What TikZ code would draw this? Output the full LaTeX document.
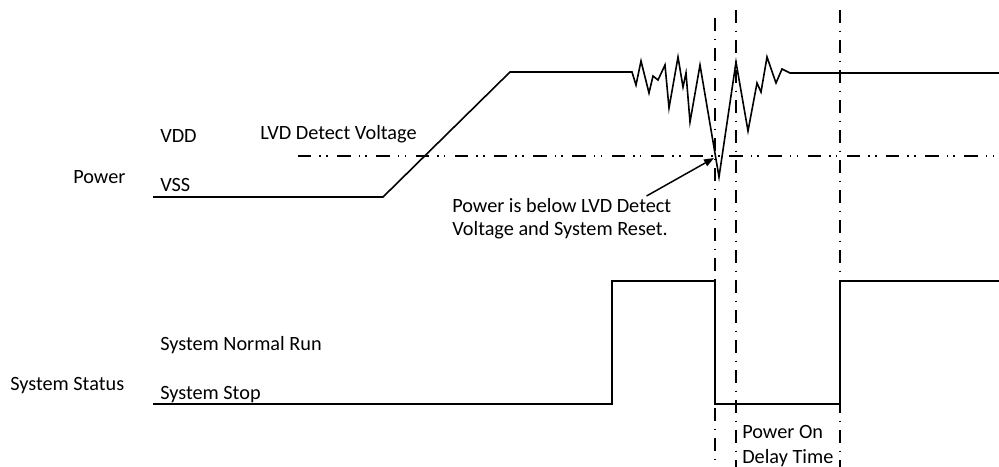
\documentclass[tikz,border=0pt]{standalone}
\usepackage{fontspec}
\setmainfont{Carlito}
\usetikzlibrary{arrows.meta}

\begin{document}
\begin{tikzpicture}[x=0.75pt, y=-0.75pt, >={Triangle[length=7.5pt,width=5.5pt]},
  wave/.style={line width=1.2pt, line join=miter},
  guide/.style={line width=1.1pt, dash pattern=on 10pt off 5.5pt on 1.2pt off 5.8pt},
  guideh/.style={line width=1.1pt, dash pattern=on 10pt off 6pt on 1.2pt off 4pt on 1.2pt off 7pt},
  lbl/.style={inner sep=0pt, anchor=base west, font=\fontsize{15.2}{17}\selectfont}]
\useasboundingbox (0,0) rectangle (999,467);
% labels
\node[lbl] (vdd) at (160,142.7) {VDD};
\node[lbl] (lvd) at (260,139.3) {LVD Detect Voltage};
\node[lbl] (power) at (73,183) {Power};
\node[lbl] (vss) at (160,191.7) {VSS};
\node[lbl] (normal) at (160,350) {System Normal Run};
\node[lbl] (status) at (10,390.7) {System Status};
\node[lbl] (stop) at (160,399) {System Stop};
\node[lbl, anchor=north west, align=left] (reset) at (452,198)
  {Power is below LVD Detect\\Voltage and System Reset.};
\node[lbl, anchor=north west, align=left, font=\fontsize{15.2}{18.7}\selectfont] (delay) at (742,425)
  {Power On\\Delay Time};
% guide lines
\draw[guideh] (298,156) -- (999,156);
\draw[guide] (715,18) -- (715,467);
\draw[guide] (736,10) -- (736,467);
\draw[guide] (840,10) -- (840,467);
% power
\draw[wave] (153,197) -- (383,197) -- (510,72) -- (632,72) -- (636,85) -- (641,61)
  -- (649,93) -- (653,76) -- (658,80) -- (665,65) -- (669,108) -- (678,57) -- (683,87)
  -- (686,73) -- (690,122) -- (700,65) -- (719,177) -- (736,62) -- (748,131) -- (757,83)
  -- (761,92) -- (767,57) -- (776,83) -- (782,69) -- (790,73) -- (999,73);
% status
\draw[wave] (153,404) -- (612,404) -- (612,281) -- (715,281) -- (715,404) -- (840,404)
  -- (840,281) -- (999,281);
\coordinate (dip) at (714,158);
\draw[->, line width=1.1pt] ([xshift=-18.75pt,yshift=1.5pt]reset.north east) -- (dip);
\end{tikzpicture}
\end{document}
